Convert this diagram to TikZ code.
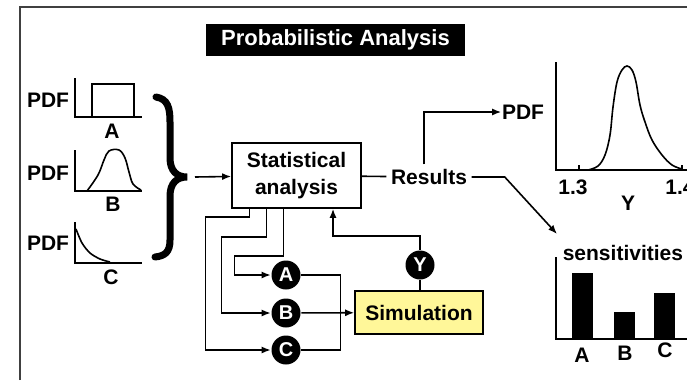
\documentclass[tikz,border=0pt]{standalone}
\usepackage{fontspec}
\setmainfont{Liberation Sans}
\usetikzlibrary{arrows.meta,positioning}
\definecolor{simyellow}{rgb}{1.0,0.97,0.6}

\begin{document}
\begin{tikzpicture}[x=1pt,y=-1pt,>={Latex[length=9pt,width=7pt]},line width=1.6pt,
  txt/.style={font=\fontsize{21}{27}\selectfont\bfseries,inner sep=0pt},
  blackdot/.style={circle,fill=black,text=white,minimum size=29pt,inner sep=0pt,font=\fontsize{20}{20}\selectfont\bfseries},
  boxed/.style={rectangle,draw,txt,align=center}]
 \clip (0,0) rectangle (687,380);
 \draw[line width=1.2pt,black!75] (20,380) -- (20,7) -- (687,7);
 \node[fill=black,text=white,txt,font=\fontsize{22}{24}\selectfont\bfseries,minimum width=259pt,minimum height=32pt] (title) at (335.5,40) {Probabilistic Analysis};

 \node[txt] (pdfa) at (48,100) {PDF};
 \node[txt] (pdfb) at (48,173) {PDF};
 \node[txt] (pdfc) at (48,243) {PDF};
 \draw (75,78) -- (75,117) -- (142,117);
 \draw (92,117) -- (92,84) -- (134,84) -- (134,117);
 \draw (75,150) -- (75,191) -- (142,191);
 \draw plot[smooth,tension=0.6] coordinates {(87,191) (98,175) (104,160) (109,151) (119,150) (125,158) (129,172) (133,184) (141,190)};
 \draw (75,222) -- (75,263) -- (142,263);
 \draw plot[smooth] coordinates {(76,229) (82,243) (90,253) (100,259) (110,262)};
 \node[txt] (la) at (112,131) {A};
 \node[txt] (lb) at (113,204) {B};
 \node[txt] (lc) at (111,277) {C};

 \draw[line width=7pt,line cap=round] (156,97) .. controls (168,99) and (170,108) .. (170,122) -- (170,158) .. controls (170,171) and (177,177) .. (187,177) .. controls (177,177) and (170,183) .. (170,196) -- (170,240) .. controls (170,252) and (165,256) .. (155,257);
 \coordinate (bracetip) at (195,177);

 \node[boxed,minimum width=129pt,minimum height=65pt] (stat) at (296.5,175.5) {Statistical\\analysis};
 \node[txt,inner sep=4pt] (res) at (429,177) {Results};
 \node[txt] (pdfy) at (523,112) {PDF};
 \node[boxed,fill=simyellow,minimum width=128pt,minimum height=43pt] (sim) at (419,312.5) {Simulation};
 \node[blackdot] (ca) at (286,275) {A};
 \node[blackdot] (cb) at (286,313) {B};
 \node[blackdot] (cc) at (286,350) {C};
 \node[blackdot] (cy) at (420,265) {Y};
 \coordinate (sensin) at (557,234);

 \draw[->] (bracetip) -- (stat);
 \draw (stat) -- (res);
 \draw[->] ([xshift=-5pt]res.north) |- (pdfy.west);
 \draw[->] (res.east) -- ++(33,0) -- (sensin);
 \draw[->] ([xshift=-47pt]stat.south) -- ++(0,8) -- ++(-44,0) |- (cc.west);
 \draw[->] ([xshift=-30pt]stat.south) -- ++(0,28) -- ++(-45,0) |- (cb.west);
 \draw[->] ([xshift=-13pt]stat.south) -- ++(0,47) -- ++(-49,0) |- (ca.west);
 \draw (ca.east) -- ++(39,0) |- (cc.east);
 \draw[->] (cb) -- (sim);
 \draw (cy) -- (cy |- sim.north);
 \draw[->] (cy.north) -- ++(0,-14) -| ([xshift=36.5pt]stat.south);

 \draw (556,62) -- (556,170) -- (687,170);
 \draw (579,170) -- (579,165) (682,170) -- (682,165);
 \draw plot[smooth,tension=0.6] coordinates {(588,170) (598,166) (605,155) (610,135) (613,107) (617,82) (622,70) (627,66) (632,70) (636,82) (640,105) (645,122) (652,140) (662,155) (672,165) (682,169)};
 \node[txt] (t13) at (573,187) {1.3};
 \node[txt] (t14) at (680,187) {1.4};
 \node[txt] (ylab) at (628,203) {Y};

 \node[txt,anchor=west] (sens) at (562,253) {sensitivities};
 \draw (556,257) -- (556,339) -- (687,339);
 \fill (572,339) rectangle (593,273);
 \fill (614,339) rectangle (635,312);
 \fill (654,339) rectangle (675,293);
 \node[txt] (sa) at (582,355) {A};
 \node[txt] (sb) at (625,353) {B};
 \node[txt] (sc) at (665,350) {C};
\end{tikzpicture}
\end{document}
